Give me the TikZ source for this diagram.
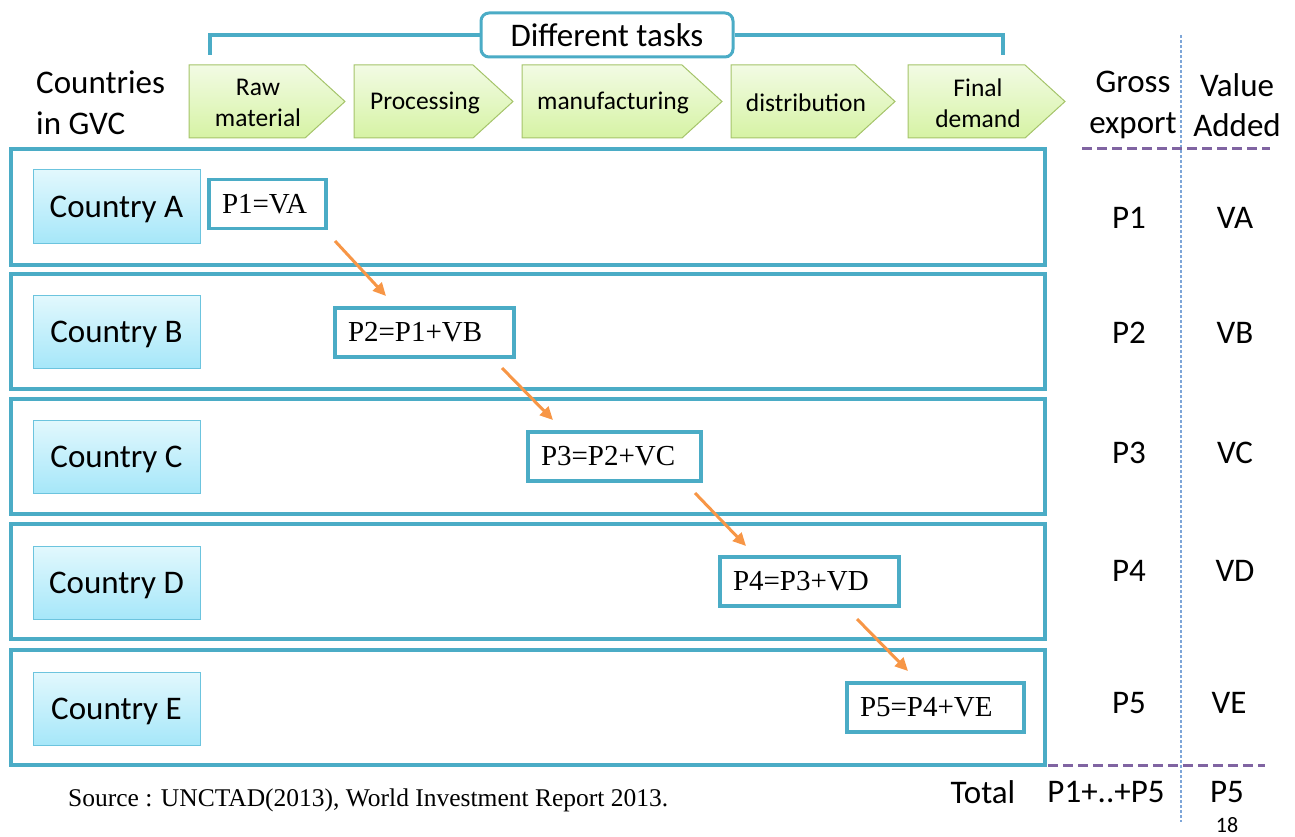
\documentclass[tikz,border=0pt]{standalone}
\usepackage{fontspec}
\setmainfont{Carlito}
\newfontfamily\tnr{Liberation Serif}
\usetikzlibrary{arrows.meta}
\newcommand\fsz[2]{\fontsize{#1}{#2}\selectfont}
\definecolor{rowc}{HTML}{4BACC6}
\definecolor{ctyline}{HTML}{6CC4DE}
\definecolor{ctytop}{HTML}{E2F8FD}
\definecolor{ctybot}{HTML}{A6E7F9}
\definecolor{chtop}{HTML}{F2FBE4}
\definecolor{chbot}{HTML}{D6F3A4}
\definecolor{chline}{HTML}{A5C46A}
\definecolor{orng}{HTML}{F79646}
\definecolor{purp}{HTML}{8064A2}
\definecolor{vblue}{HTML}{7EA6D8}
\tikzset{
  rowbox/.style={draw=rowc, line width=3.5pt, minimum width=1034pt, inner sep=0pt},
  country/.style={draw=ctyline, line width=1pt, top color=ctytop, bottom color=ctybot,
    minimum width=167pt, minimum height=73pt, inner sep=0pt, text depth=0pt, font=\fsz{33}{40}},
  pbox/.style={draw=rowc, line width=3.5pt, fill=white, font=\tnr\fsz{29}{34},
    minimum height=49pt, inner xsep=13pt, inner ysep=0pt, align=left},
  arr/.style={draw=orng, line width=3pt, -{Triangle[length=13pt,width=12pt]}},
  chev/.style={draw=chline, line width=1pt, top color=chtop, bottom color=chbot},
  chtext/.style={font=\fsz{25.5}{31}, align=center, inner sep=0pt},
  lab/.style={font=\fsz{33}{40.5}, inner sep=0pt, align=center},
  purpdash/.style={draw=purp, line width=3pt, dash pattern=on 10pt off 5pt},
  vdot/.style={draw=vblue, line width=1.2pt, dash pattern=on 3pt off 2pt}
}
\begin{document}
\begin{tikzpicture}[x=1pt,y=-1pt]
\useasboundingbox (0,0) rectangle (1295,837);

% header bracket and title
\node[draw=rowc, line width=3pt, fill=white, rounded corners=8pt, minimum width=252pt,
  minimum height=44pt, font=\fsz{33}{40}, inner sep=0pt] (dt) at (607,35) {Different tasks};
\coordinate (bl) at (210,55);
\coordinate (br) at (1003,55);
\draw[rowc, line width=3.5pt] (bl) |- (dt.west);
\draw[rowc, line width=3.5pt] (dt.east) -| (br);

% left header
\node[lab, align=left, anchor=west] (cg) at (36,103) {Countries\\in GVC};

% chevrons
\foreach \a/\b in {189/345, 354/513, 522/722, 731/895, 908/1065}{
  \path[chev] (\a,65) -- (\b-40,65) -- (\b,101.5) -- (\b-40,138) -- (\a,138) -- cycle;
}
\node[chtext] (t1) at (258,103) {Raw\\material};
\node[chtext] (t2) at (425,103) {Processing};
\node[chtext] (t3) at (613,103) {manufacturing};
\node[chtext] (t4) at (806,103) {distribution};
\node[chtext] (t5) at (978,103) {Final\\demand};

% right header
\node[lab] (ge) at (1133,105) {Gross\\export};
\node[lab] (va) at (1237,105) {Value\\Added};
\coordinate (vtop) at (1181,35);
\coordinate (vbot) at (1181,822);
\draw[vdot] (vtop) -- (vbot);
\coordinate (pd1a) at (1082,149);
\coordinate (pd1b) at (1270,149);
\draw[purpdash] (pd1a) -- (pd1b);
\coordinate (pd2a) at (1048,765);
\coordinate (pd2b) at (1265,765);
\draw[purpdash] (pd2a) -- (pd2b);

% rows
\node[rowbox, minimum height=116pt] (rA) at (528,207) {};
\node[rowbox, minimum height=115pt] (rB) at (528,331.5) {};
\node[rowbox, minimum height=115pt] (rC) at (528,456.5) {};
\node[rowbox, minimum height=115pt] (rD) at (528,581.5) {};
\node[rowbox, minimum height=115pt] (rE) at (528,707.5) {};

\node[country] (cA) at (116.5,206.5) {Country A};
\node[country] (cB) at (116.5,331.5) {Country B};
\node[country] (cC) at (116.5,456.5) {Country C};
\node[country] (cD) at (116.5,582.5) {Country D};
\node[country] (cE) at (116.5,708.5) {Country E};

\node[pbox, text width=91pt] (p1) at (267.5,204) {P1=VA};
\node[pbox, text width=153pt] (p2) at (424.5,332.5) {P2=P1+VB};
\node[pbox, text width=147pt] (p3) at (614.5,456.5) {P3=P2+VC};
\node[pbox, text width=153pt] (p4) at (809.5,581.5) {P4=P3+VD};
\node[pbox, text width=151pt] (p5) at (935.5,707.5) {P5=P4+VE};

\coordinate (a1s) at (335,241); \coordinate (a1e) at (386,296);
\coordinate (a2s) at (502,368); \coordinate (a2e) at (553,420);
\coordinate (a3s) at (695,493); \coordinate (a3e) at (746,546);
\coordinate (a4s) at (857,619); \coordinate (a4e) at (908,671);
\draw[arr] (a1s) -- (a1e);
\draw[arr] (a2s) -- (a2e);
\draw[arr] (a3s) -- (a3e);
\draw[arr] (a4s) -- (a4e);

% values
\node[lab] (g1) at (1129,218) {P1}; \node[lab] (v1) at (1235,218) {VA};
\node[lab] (g2) at (1129,333) {P2}; \node[lab] (v2) at (1235,333) {VB};
\node[lab] (g3) at (1129,453) {P3}; \node[lab] (v3) at (1235,453) {VC};
\node[lab] (g4) at (1129,571) {P4}; \node[lab] (v4) at (1235,571) {VD};
\node[lab] (g5) at (1129,703) {P5}; \node[lab] (v5) at (1229,703) {VE};

\node[lab] (tot) at (983,792) {Total};
\node[lab] (gt) at (1106,792) {P1+..+P5};
\node[lab] (vt) at (1227,792) {P5};
\node[font=\fsz{22}{24}, inner sep=0pt] (pg) at (1227,825) {18};

\node[font=\tnr\fsz{25.5}{28}, inner sep=0pt, anchor=west] (src) at (68,800)
  {Source : UNCTAD(2013), World Investment Report 2013.};
\end{tikzpicture}
\end{document}
